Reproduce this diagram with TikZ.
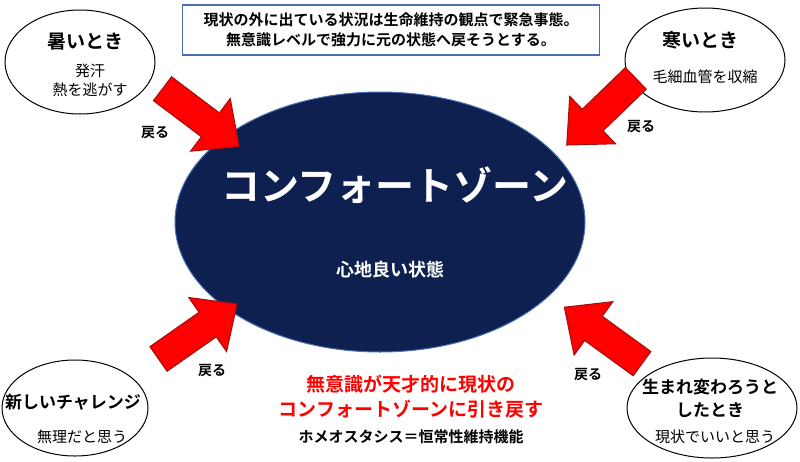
\documentclass[tikz,border=0pt]{standalone}
\usepackage{fontspec}
\setmainfont{Noto Sans CJK JP}[BoldFont={* Bold}]
\usetikzlibrary{shapes.geometric}
\definecolor{navy}{HTML}{0E2050}
\definecolor{boxblue}{HTML}{4A6FB5}
\definecolor{arrred}{HTML}{FF0000}
\definecolor{arredge}{HTML}{A01010}
\tikzset{
 corner/.style={ellipse,draw=black,line width=1pt,fill=white},
 bigarrow/.style={draw=arredge,line width=1pt,fill=arrred},
 lbl/.style={font=\bfseries\fontsize{14}{16}\selectfont,inner sep=0pt},
 sub/.style={font=\fontsize{15}{19}\selectfont,align=center},
 ttl/.style={font=\bfseries\fontsize{19}{23}\selectfont,align=center}
}
\newcommand{\blockarrow}[4]{%
 \begin{scope}[shift={(#1,#2)},rotate=#3]
 \coordinate (#4) at (0,0);
 \draw[bigarrow] (-47,-15) -- (13,-15) -- (13,-33) -- (49,0) -- (13,33) -- (13,15) -- (-47,15) -- cycle;
 \end{scope}}
\begin{document}
\begin{tikzpicture}[x=1pt,y=-1pt]
\useasboundingbox (0,0) rectangle (800,461);
\node[ellipse,draw=boxblue,line width=1pt,fill=navy,minimum width=410pt,minimum height=260pt] (main) at (380,222) {};
\node[text=white,font=\bfseries\fontsize{39}{42}\selectfont] (t1) at (395,185) {コンフォートゾーン};
\node[text=white,font=\bfseries\fontsize{18}{22}\selectfont] (t2) at (390,270) {心地良い状態};
\node[draw=boxblue,line width=1.2pt,fill=white,minimum width=417pt,minimum height=50pt,align=center,font=\bfseries\fontsize{15}{20}\selectfont,inner sep=0pt] (top) at (391,30) {現状の外に出ている状況は生命維持の観点で緊急事態。\\無意識レベルで強力に元の状態へ戻そうとする。};
\node[corner,minimum width=150pt,minimum height=104pt] (tl) at (80,62) {};
\node[ttl] at (85,42) {暑いとき};
\node[sub] at (90,80) {発汗\\熱を逃がす};
\node[corner,minimum width=160pt,minimum height=104pt] (tr) at (705,60) {};
\node[ttl] at (700,40) {寒いとき};
\node[sub] at (705,77) {毛細血管を収縮};
\node[corner,minimum width=146pt,minimum height=96pt] (bl) at (75,408) {};
\node[ttl,font=\bfseries\fontsize{17}{21}\selectfont] at (73,402) {新しいチャレンジ};
\node[sub] at (82,437) {無理だと思う};
\node[corner,minimum width=170pt,minimum height=100pt] (br) at (712,408) {};
\node[ttl,font=\bfseries\fontsize{17}{23}\selectfont] at (710,398) {生まれ変わろうと\\したとき};
\node[sub] at (715,437) {現状でいいと思う};
\blockarrow{200}{117}{-37}{a1}
\blockarrow{602}{111}{-136}{a2}
\blockarrow{197}{332}{35}{a3}
\blockarrow{604}{336}{144}{a4}
\node[lbl] (r1) at (155,133) {戻る};
\node[lbl] (r2) at (641,127) {戻る};
\node[lbl] (r3) at (212,371) {戻る};
\node[lbl] (r4) at (588,375) {戻る};
\node[text=arrred,align=center,font=\bfseries\fontsize{19}{25}\selectfont] (red) at (411,397) {無意識が天才的に現状の\\コンフォートゾーンに引き戻す};
\node[font=\bfseries\fontsize{15}{18}\selectfont] (homeo) at (411,437) {ホメオスタシス＝恒常性維持機能};
\end{tikzpicture}
\end{document}
